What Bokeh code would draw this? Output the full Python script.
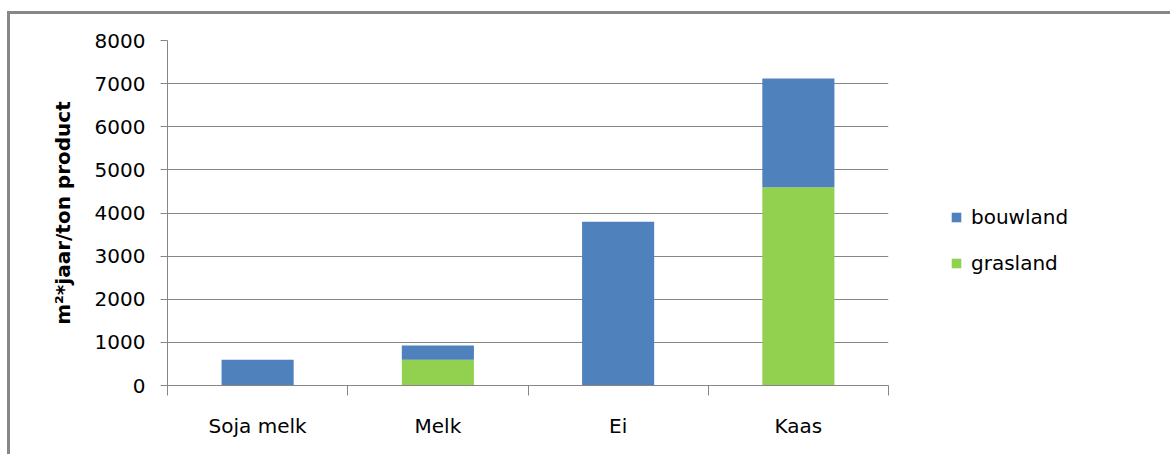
from bokeh.plotting import figure
from bokeh.models import Range1d, FixedTicker, Legend, LegendItem, ColumnDataSource
from bokeh.embed import file_html
from bokeh.resources import INLINE

categories = ["Soja melk", "Melk", "Ei", "Kaas"]
grasland = [0, 600, 0, 4600]
bouwland = [600, 330, 3800, 2520]
y_ticks = [0, 1000, 2000, 3000, 4000, 5000, 6000, 7000, 8000]
y_label = "m\u00b2*jaar/ton product"

BLUE = "#4F81BD"
GREEN = "#92D050"
GRID = "#868686"
FONT = "DejaVu Sans"

centers = [i + 0.5 for i in range(len(categories))]
bounds = [float(i) for i in range(len(categories) + 1)]
src = ColumnDataSource(dict(x=centers, grasland=grasland, bouwland=bouwland))

p = figure(frame_width=721, frame_height=345, output_backend="svg", toolbar_location=None,
           x_range=Range1d(0, len(categories)), y_range=Range1d(0, 8000),
           min_border_left=157, min_border_top=26,
           min_border_right=200, min_border_bottom=69)
p.styles = {"border-top": "3px solid #878787", "border-left": "3px solid #878787"}
p.margin = (11, 0, 0, 7)
p.outline_line_color = None
p.background_fill_color = "white"
p.border_fill_color = "white"

rs = p.vbar_stack(["grasland", "bouwland"], x="x", width=0.4, color=[GREEN, BLUE],
                  line_color=None, source=src)

# y axis
p.yaxis.ticker = FixedTicker(ticks=y_ticks)
p.yaxis.axis_line_color = GRID
p.yaxis.major_tick_line_color = GRID
p.yaxis.major_tick_out = 7
p.yaxis.major_tick_in = 0
p.yaxis.minor_tick_line_color = None
p.yaxis.major_label_text_font = FONT
p.yaxis.major_label_text_font_size = "20px"
p.yaxis.major_label_text_color = "#000000"
p.yaxis.major_label_standoff = 15
p.yaxis.axis_label = y_label
p.yaxis.axis_label_text_font = FONT
p.yaxis.axis_label_text_font_size = "20px"
p.yaxis.axis_label_text_font_style = "bold"
p.yaxis.axis_label_text_color = "#000000"
p.yaxis.axis_label_standoff = 17

# x axis
p.xaxis.ticker = FixedTicker(ticks=centers, minor_ticks=bounds)
p.xaxis.major_label_overrides = {c: lab for c, lab in zip(centers, categories)}
p.xaxis.axis_line_color = GRID
p.xaxis.major_tick_line_color = None
p.xaxis.minor_tick_line_color = GRID
p.xaxis.minor_tick_out = 10
p.xaxis.minor_tick_in = 0
p.xaxis.major_label_text_font = FONT
p.xaxis.major_label_text_font_size = "20px"
p.xaxis.major_label_text_color = "#000000"
p.xaxis.major_label_standoff = 18

p.xgrid.grid_line_color = None
p.ygrid.ticker = FixedTicker(ticks=y_ticks)
p.ygrid.grid_line_color = GRID
p.ygrid.grid_line_width = 1

legend = Legend(items=[LegendItem(label="bouwland", renderers=[rs[1]]),
                       LegendItem(label="grasland", renderers=[rs[0]])],
                location=(62, 110), padding=0, margin=0, spacing=22,
                glyph_width=12, glyph_height=12, label_standoff=9,
                label_text_font=FONT, label_text_font_size="20px",
                label_text_color="#000000",
                border_line_color=None, background_fill_alpha=0)
p.add_layout(legend, "right")

open("out.html", "w").write(file_html(p, INLINE))
